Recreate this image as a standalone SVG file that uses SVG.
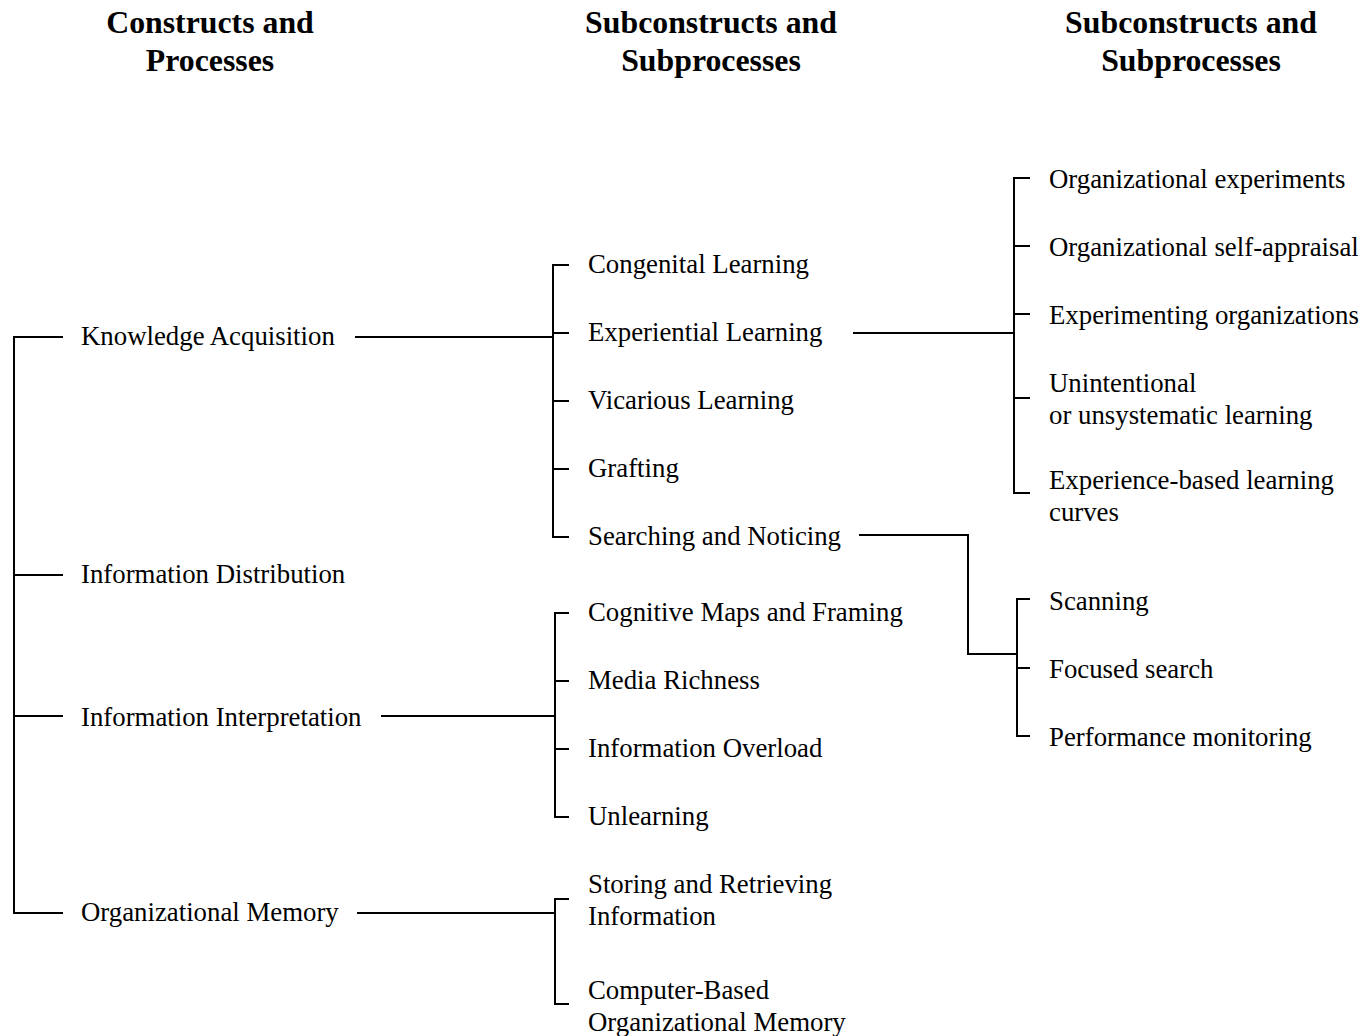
<svg xmlns="http://www.w3.org/2000/svg" width="1364" height="1036" viewBox="0 0 1364 1036">
<style>
text{font-family:"Liberation Serif","Times New Roman",serif;fill:#000}
.h{font-size:31.8px;font-weight:bold;text-anchor:middle}
.t{font-size:26.8px}
.c line,.c path{stroke:#000;stroke-width:2;fill:none}
</style>
<rect width="1364" height="1036" fill="#fff"/>
<g id="headings">
<text class="h" x="210" y="33">Constructs and</text>
<text class="h" x="210" y="71">Processes</text>
<text class="h" x="711" y="33">Subconstructs and</text>
<text class="h" x="711" y="71">Subprocesses</text>
<text class="h" x="1191" y="33">Subconstructs and</text>
<text class="h" x="1191" y="71">Subprocesses</text>
</g>
<g class="c" id="connectors">
<path d="M63 337H14V913H63M14 575H63M14 716H63"/>
<path d="M355 337H553"/>
<path d="M569 265H553V537H569M553 333H569M553 401H569M553 469H569"/>
<path d="M853 333H1014"/>
<path d="M1030 178H1014V493H1030M1014 246H1030M1014 314H1030M1014 398H1030"/>
<path d="M859 535H968V654H1017"/>
<path d="M1030 599H1017V736H1030M1017 668H1030"/>
<path d="M381 716H555"/>
<path d="M569 613H555V817H569M555 681H569M555 749H569"/>
<path d="M357 913H555"/>
<path d="M569 899H555V1004H569"/>
</g>
<g id="n-ka"><text class="t" x="81" y="345">Knowledge Acquisition</text></g>
<g id="n-id"><text class="t" x="81" y="583">Information Distribution</text></g>
<g id="n-ii"><text class="t" x="81" y="726">Information Interpretation</text></g>
<g id="n-om"><text class="t" x="81" y="921">Organizational Memory</text></g>
<g id="n-cl"><text class="t" x="588" y="273">Congenital Learning</text></g>
<g id="n-el"><text class="t" x="588" y="341">Experiential Learning</text></g>
<g id="n-vl"><text class="t" x="588" y="409">Vicarious Learning</text></g>
<g id="n-gr"><text class="t" x="588" y="477">Grafting</text></g>
<g id="n-sn"><text class="t" x="588" y="545">Searching and Noticing</text></g>
<g id="n-cm"><text class="t" x="588" y="621">Cognitive Maps and Framing</text></g>
<g id="n-mr"><text class="t" x="588" y="689">Media Richness</text></g>
<g id="n-io"><text class="t" x="588" y="757">Information Overload</text></g>
<g id="n-ul"><text class="t" x="588" y="825">Unlearning</text></g>
<g id="n-sr"><text class="t" x="588" y="893">Storing and Retrieving</text><text class="t" x="588" y="925">Information</text></g>
<g id="n-cb"><text class="t" x="588" y="999">Computer-Based</text><text class="t" x="588" y="1031">Organizational Memory</text></g>
<g id="n-oe"><text class="t" x="1049" y="188">Organizational experiments</text></g>
<g id="n-os"><text class="t" x="1049" y="256">Organizational self-appraisal</text></g>
<g id="n-eo"><text class="t" x="1049" y="324">Experimenting organizations</text></g>
<g id="n-uu"><text class="t" x="1049" y="392">Unintentional</text><text class="t" x="1049" y="424">or unsystematic learning</text></g>
<g id="n-eb"><text class="t" x="1049" y="489">Experience-based learning</text><text class="t" x="1049" y="521">curves</text></g>
<g id="n-sc"><text class="t" x="1049" y="610">Scanning</text></g>
<g id="n-fs"><text class="t" x="1049" y="678">Focused search</text></g>
<g id="n-pm"><text class="t" x="1049" y="746">Performance monitoring</text></g>
</svg>
